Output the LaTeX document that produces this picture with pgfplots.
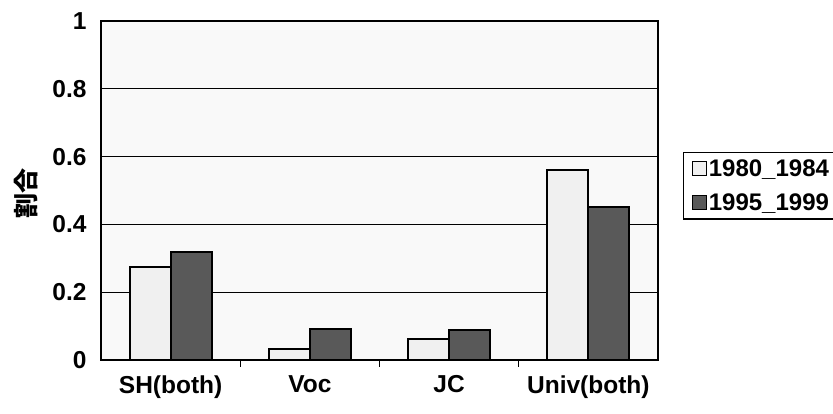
\documentclass[border=0pt]{standalone}
\usepackage{fontspec}
\setmainfont{Liberation Sans}
\newfontfamily\jp{Noto Sans CJK JP}
\usepackage{pgfplots}
\pgfplotsset{compat=1.18}
\pgfplotstableread{
x a b
0 0.275 0.318
1 0.032 0.090
2 0.062 0.088
3 0.560 0.450
}\datatab
\begin{document}
\begin{tikzpicture}
\useasboundingbox (-101pt,-54pt) rectangle (732pt,360pt);
\begin{axis}[
  at={(0,0)}, anchor=south west,
  scale only axis, width=557pt, height=339pt,
  xmin=-0.5, xmax=3.5, ymin=0, ymax=1,
  xtick={0,1,2,3}, xticklabels={SH(both),Voc,JC,Univ(both)},
  ytick={0,0.2,0.4,0.6,0.8,1}, yticklabels={0,0.2,0.4,0.6,0.8,1},
  ymajorgrids, major grid style={black, line width=1.1pt},
  axis line style={line width=1.6pt},
  axis background/.style={fill=gray!5},
  major tick length=0pt,
  minor xtick={0.5,1.5,2.5}, minor tick length=7pt, tick align=inside,
  xtick pos=bottom, ytick pos=left,
  minor tick style={black, line width=1pt},
  ybar=0pt, bar width=41pt,
  /pgf/number format/assume math mode=true,
  tick label style={font=\fontsize{24.5}{27}\selectfont\bfseries},
  yticklabel style={xshift=-11pt},
  xticklabel style={yshift=-12pt},
  ylabel={\jp\bfseries 割合},
  ylabel style={at={(axis description cs:-0.135,0.49)}, anchor=center, font=\fontsize{25}{28}\selectfont},
  legend style={at={(axis description cs:1.045,0.614)}, anchor=north west,
    draw=black, line width=1.2pt, fill=white,
    font=\fontsize{24}{27}\selectfont\bfseries, inner xsep=8pt, inner ysep=5pt,
    row sep=12pt},
  legend cell align=left,
  legend image code/.code={\draw[#1, line width=1.2pt] (0pt,-7pt) rectangle (14pt,7pt);},
]
\addplot[draw=black, line width=2pt, fill=gray!12] table[x=x, y=a] {\datatab};
\addplot[draw=black, line width=2pt, fill=black!65] table[x=x, y=b] {\datatab};
\legend{1980\_1984,1995\_1999}
\end{axis}
\end{tikzpicture}
\end{document}
